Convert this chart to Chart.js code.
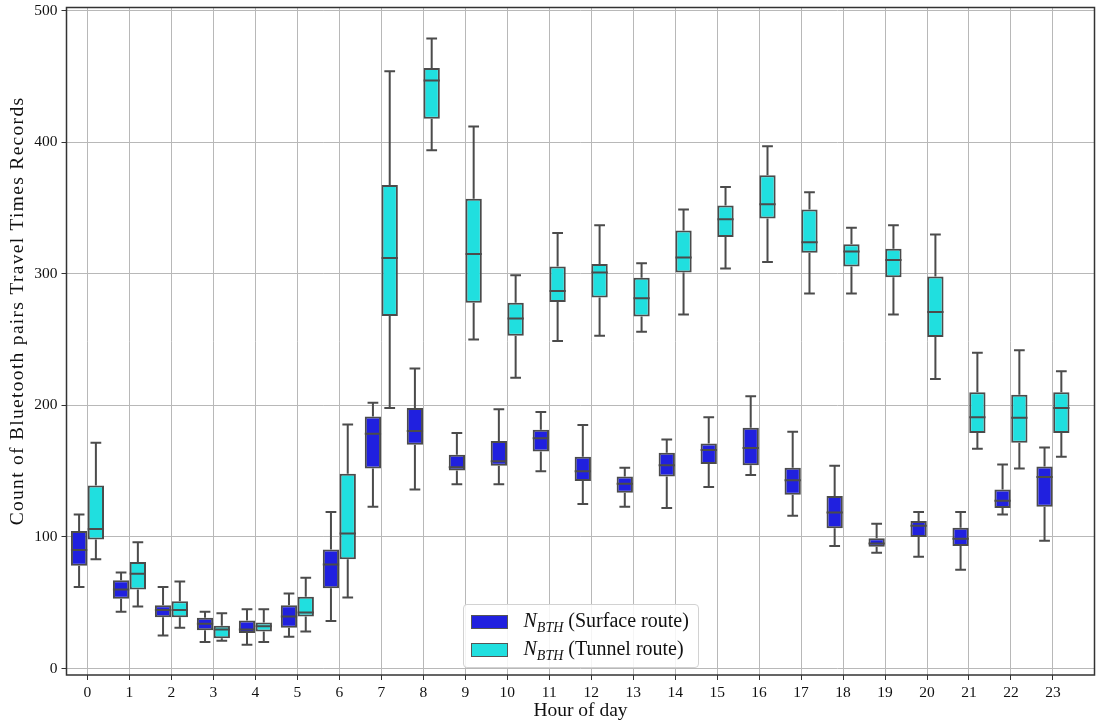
<!DOCTYPE html>
<html>
<head>
<meta charset="utf-8">
<title>Bluetooth pairs per hour</title>
<script src="https://cdn.jsdelivr.net/npm/chart.js@4.4.1/dist/chart.umd.min.js"></script>
<style>
  body { margin: 0; background: #fff; }
  #wrap { position: relative; width: 1096px; height: 727px; }
  #legend {
    position: absolute;
    font-family: "Liberation Serif", serif;
    font-size: 20px;
    color: #111;
    background: rgba(255, 255, 255, 0.85);
    border: 1px solid #d2d2d2;
    border-radius: 4px;
    padding: 3px 9px 3px 7px;
    white-space: nowrap;
  }
  #legend .row { display: flex; align-items: center; height: 28px; }
  #legend .patch { width: 37px; height: 14px; box-sizing: border-box; border: 1px solid #555; margin-right: 16px; flex: none; }
  #legend sub { font-size: 14px; font-style: italic; }
</style>
</head>
<body>
<div id="wrap">
  <canvas id="chartBox"></canvas>
  <div id="legend"></div>
</div>
<script>
// hour of day (categories)
const hours = [0, 1, 2, 3, 4, 5, 6, 7, 8, 9, 10, 11, 12, 13, 14, 15, 16, 17, 18, 19, 20, 21, 22, 23];

// Surface route box stats
const surfaceLow  = [62, 43, 25, 20, 18, 24, 36, 123, 136, 140, 140, 150, 125, 123, 122, 138, 147, 116, 93, 88, 85, 75, 117, 97];
const surfaceQ1   = [78, 53, 39, 29, 27, 31, 61, 152, 170, 150.5, 154, 165, 142.5, 133.5, 146, 155.5, 154.5, 132, 106.5, 92.5, 100, 93, 122, 123];
const surfaceMed  = [90, 60, 44.5, 34, 29.5, 39.5, 79, 178.5, 180.5, 153, 157.5, 175, 150, 140.5, 154.5, 166, 167.5, 143, 118.5, 95, 108.5, 98.5, 127.5, 145.5];
const surfaceQ3   = [104.5, 67, 48, 38.5, 36.5, 48, 90.5, 191.5, 198, 162.5, 173, 181.5, 161, 146, 164, 171, 183, 152.5, 131, 99, 112, 107, 136, 153.5];
const surfaceHigh = [117, 73, 62, 43, 45, 57, 119, 202, 228, 179, 197, 195, 185, 152.5, 174, 191, 207, 180, 154, 110, 119, 119, 155, 168];

// Tunnel route box stats
const tunnelLow  = [83, 47, 31, 21, 20, 28, 54, 198, 394, 250, 221, 249, 253, 256, 269, 304, 309, 285, 285, 269, 220, 167, 152, 161];
const tunnelQ1   = [98, 60, 39, 23, 28, 39.5, 83, 268, 418, 278, 253, 278.5, 282, 267.5, 301, 328, 342, 316, 305.5, 297.5, 252, 179, 171.5, 179];
const tunnelMed  = [106, 72, 44.5, 29.5, 32, 42.5, 102.5, 312, 447, 315, 266, 287, 301, 281.5, 312.5, 341.5, 353, 324, 317, 310.5, 271, 191, 190.5, 198];
const tunnelQ3   = [139, 81, 51, 32.5, 35, 54.5, 148, 367.5, 456.5, 357, 278, 305.5, 307.5, 297, 333, 352, 375, 349, 322.5, 319, 298, 210, 208, 210];
const tunnelHigh = [171.5, 96, 66, 42, 45, 69, 185.5, 454, 479, 412, 299, 331, 337, 308, 349, 366, 397, 362, 335, 337, 330, 240, 242, 226];

const yTicks = [0, 100, 200, 300, 400, 500];

const lineColor = '#4b4b4b';
const gridColor = '#b8b8b8';
const fontFamily = '"Liberation Serif", serif';

Chart.defaults.font.family = fontFamily;
Chart.defaults.color = '#111';

function boxDataset(label, route, color, low, q1, med, q3, high) {
    return {
        label: label,
        route: route,
        data: hours.map((h, i) => [q1[i], q3[i]]),
        low: low,
        med: med,
        high: high,
        backgroundColor: color,
        borderColor: lineColor,
        borderWidth: 2,
        borderSkipped: false,
        categoryPercentage: 0.8,
        barPercentage: 0.97
    };
}

// whiskers + median lines on top of the floating bars
const whiskerPlugin = {
    id: 'whiskers',
    afterDatasetsDraw(chart) {
        const ctx = chart.ctx;
        const y = chart.scales.y;
        ctx.save();
        ctx.strokeStyle = lineColor;
        ctx.lineWidth = 2;
        chart.data.datasets.forEach((ds, d) => {
            const meta = chart.getDatasetMeta(d);
            meta.data.forEach((bar, i) => {
                const half = bar.width / 2;
                const cap = bar.width * 0.33;
                const yLow = y.getPixelForValue(ds.low[i]);
                const yHigh = y.getPixelForValue(ds.high[i]);
                const yQ1 = y.getPixelForValue(ds.data[i][0]);
                const yQ3 = y.getPixelForValue(ds.data[i][1]);
                const yMed = y.getPixelForValue(ds.med[i]);
                ctx.beginPath();
                ctx.moveTo(bar.x, yQ3); ctx.lineTo(bar.x, yHigh);
                ctx.moveTo(bar.x, yQ1); ctx.lineTo(bar.x, yLow);
                ctx.moveTo(bar.x - cap, yHigh); ctx.lineTo(bar.x + cap, yHigh);
                ctx.moveTo(bar.x - cap, yLow); ctx.lineTo(bar.x + cap, yLow);
                ctx.moveTo(bar.x - half, yMed); ctx.lineTo(bar.x + half, yMed);
                ctx.stroke();
            });
        });
        // spines all round
        const a = chart.chartArea;
        ctx.strokeStyle = '#333';
        ctx.lineWidth = 1.5;
        ctx.strokeRect(a.left, a.top, a.right - a.left, a.bottom - a.top);
        ctx.restore();
    },
    afterDraw(chart) {
        // y axis title, drawn by hand so it can sit where the original does
        const ctx = chart.ctx;
        ctx.save();
        ctx.translate(18, 311);
        ctx.rotate(-Math.PI / 2);
        ctx.font = '19.5px ' + fontFamily;
        ctx.letterSpacing = '1.3px';
        ctx.fillStyle = '#111';
        ctx.textAlign = 'center';
        ctx.textBaseline = 'middle';
        ctx.fillText('Count of Bluetooth pairs Travel Times Records', 0, 0);
        ctx.restore();
    }
};

// HTML legend so the subscript can be real text
const htmlLegend = {
    id: 'htmlLegend',
    afterUpdate(chart) {
        const box = document.getElementById('legend');
        box.innerHTML = '';
        chart.data.datasets.forEach(ds => {
            const row = document.createElement('div');
            row.className = 'row';
            const patch = document.createElement('span');
            patch.className = 'patch';
            patch.style.background = ds.backgroundColor;
            const text = document.createElement('span');
            text.innerHTML = '<i>N</i><sub>BTH</sub> (' + ds.route + ')';
            row.appendChild(patch);
            row.appendChild(text);
            box.appendChild(row);
        });
        const a = chart.chartArea;
        box.style.left = ((a.left + a.right) / 2 - box.offsetWidth / 2) + 'px';
        box.style.top = (a.bottom - 7 - box.offsetHeight) + 'px';
    }
};

new Chart(document.getElementById('chartBox'), {
    type: 'bar',
    data: {
        labels: hours,
        datasets: [
            boxDataset('NBTH (Surface route)', 'Surface route', '#2020df', surfaceLow, surfaceQ1, surfaceMed, surfaceQ3, surfaceHigh),
            boxDataset('NBTH (Tunnel route)', 'Tunnel route', '#20dfdf', tunnelLow, tunnelQ1, tunnelMed, tunnelQ3, tunnelHigh)
        ]
    },
    options: {
        responsive: true,
        maintainAspectRatio: false,
        animation: false,
        layout: { padding: { top: 7.5, right: 1.5, left: 0, bottom: 0 } },
        plugins: {
            legend: { display: false },
            tooltip: { enabled: false }
        },
        scales: {
            x: {
                type: 'linear',
                min: -0.5,
                max: 23.99,
                offset: false,
                grid: { offset: false, color: gridColor, lineWidth: 1, tickColor: '#333', tickLength: 5 },
                border: { display: false },
                ticks: {
                    stepSize: 1,
                    includeBounds: false,
                    autoSkip: false,
                    maxRotation: 0,
                    padding: 4,
                    font: { size: 15.5 },
                    color: '#111'
                },
                title: {
                    display: true,
                    text: 'Hour of day',
                    font: { size: 19.5 },
                    color: '#111',
                    padding: { top: 0, bottom: 4 }
                },
                afterFit(scale) {
                    scale.height = 52;
                    scale.paddingLeft = 0;
                    scale.paddingRight = 0;
                }
            },
            y: {
                min: -5,
                max: 502.5,
                grid: { color: gridColor, lineWidth: 1, tickColor: '#333', tickLength: 5 },
                border: { display: false },
                afterBuildTicks(scale) { scale.ticks = yTicks.map(v => ({ value: v })); },
                ticks: {
                    padding: 4,
                    font: { size: 15.5 },
                    color: '#111'
                },
                afterFit(scale) {
                    scale.width = 66.5;
                    scale.paddingTop = 0;
                    scale.paddingBottom = 0;
                }
            }
        }
    },
    plugins: [whiskerPlugin, htmlLegend]
});
</script>
</body>
</html>
